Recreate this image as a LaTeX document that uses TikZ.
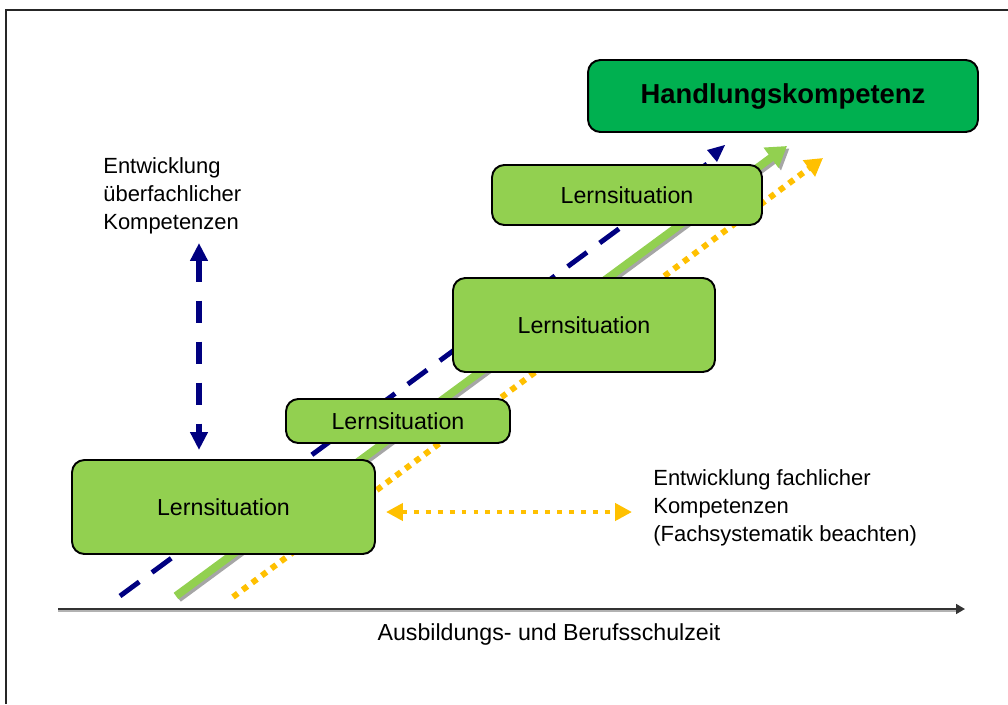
\documentclass[tikz,border=0pt]{standalone}
\usepackage{fontspec}
\setmainfont{Liberation Sans}
\usetikzlibrary{arrows.meta}
\definecolor{lsgreen}{HTML}{92D050}
\definecolor{hkgreen}{HTML}{00B050}
\definecolor{navyblue}{HTML}{000080}
\definecolor{amber}{HTML}{FFC000}
\begin{document}
\begin{tikzpicture}[x=0.02cm,y=-0.02cm,
  lsbox/.style={draw=black, line width=1.1pt, rounded corners=7pt, fill=lsgreen,
    inner sep=0pt, font=\fontsize{13.2pt}{15pt}\selectfont},
  hkbox/.style={draw=black, line width=1.1pt, rounded corners=7pt, fill=hkgreen,
    inner sep=0pt, font=\fontsize{15.6pt}{18pt}\selectfont\bfseries},
  desc/.style={inner sep=0pt, align=left, font=\fontsize{12.5pt}{15.9pt}\selectfont},
  bluedash/.style={navyblue, line width=2.8pt, dash pattern=on 13.6pt off 9pt},
  vdash/.style={navyblue, line width=3.4pt, dash pattern=on 12.5pt off 10.8pt},
  greenarrow/.style={lsgreen, line width=4.5pt, -{Triangle[length=11.3pt,width=13.6pt]}},
  greenshadow/.style={black!35, line width=4.5pt, -{Triangle[length=11.3pt,width=13.6pt]}},
  yeldot/.style={amber, line width=3.4pt, dash pattern=on 3.4pt off 3.4pt},
  axisline/.style={line width=1.1pt, -{Triangle[length=5pt,width=5.5pt]}}
]
\useasboundingbox (0,0) rectangle (1008,704);

% frame
\draw[line width=1.1pt, black!85] (6,704) -- (6,10) -- (1008,10);

% end points of the three development lines
\coordinate (blueS) at (120,596);
\coordinate (blueE) at (707,164);
\coordinate (greenS) at (176,596);
\coordinate (greenE) at (787,146);
\coordinate (yelS) at (233,597);
\coordinate (yelE) at (823,158);

% cross-disciplinary competences (dashed blue)
\draw[bluedash] (blueS) -- (blueE);
\fill[navyblue] (707,150) -- (725,145) -- (717,162) -- cycle;

% overall progression (green, with shadow)
\draw[greenshadow] ([xshift=1.4pt,yshift=-1.4pt]greenS) -- ([xshift=1.4pt,yshift=-1.4pt]greenE);
\draw[greenarrow] (greenS) -- (greenE);

% subject competences (dotted amber)
\draw[yeldot, -{Triangle[length=10pt,width=11pt]}] (yelS) -- (yelE);

% learning situations
\node[lsbox, minimum width=6.06cm, minimum height=1.88cm] (b1) at (223.5,507) {Lernsituation};
\node[lsbox, minimum width=4.48cm, minimum height=0.88cm] (b2) at (398,421) {Lernsituation};
\node[lsbox, minimum width=5.24cm, minimum height=1.88cm] (b3) at (584,325) {Lernsituation};
\node[lsbox, minimum width=5.4cm, minimum height=1.2cm] (b4) at (627,195) {Lernsituation};
\node[hkbox, minimum width=7.8cm, minimum height=1.44cm] (hk) at (783,96) {Handlungskompetenz};

% vertical double arrow
\coordinate (vT) at (199,243);
\coordinate (vB) at (199,450);
\draw[vdash, {Triangle[length=10.2pt,width=9.6pt]}-{Triangle[length=10.2pt,width=9.6pt]}] (vT) -- (vB);

% horizontal double arrow
\coordinate (hL) at (386,512);
\coordinate (hR) at (632,512);
\draw[amber, line width=2.8pt, dash pattern=on 2.8pt off 4pt,
  {Triangle[length=9.6pt,width=9.6pt]}-{Triangle[length=9.6pt,width=9.6pt]}] (hL) -- (hR);

% labels
\node[desc, anchor=north west] (ueber) at (103,157) {Entwicklung\\überfachlicher\\Kompetenzen};
\node[desc, anchor=north west] (fach) at (653,469) {Entwicklung fachlicher\\Kompetenzen\\(Fachsystematik beachten)};

% time axis
\coordinate (axS) at (58,609);
\coordinate (axE) at (965,609);
\draw[line width=1.1pt, black!30] ([yshift=-1.1pt]axS) -- ([xshift=-5pt,yshift=-1.1pt]axE);
\draw[axisline, black!80] (axS) -- (axE);
\node[anchor=base, font=\fontsize{13.2pt}{15pt}\selectfont] (axlabel) at (549,640) {Ausbildungs- und Berufsschulzeit};
\end{tikzpicture}
\end{document}
